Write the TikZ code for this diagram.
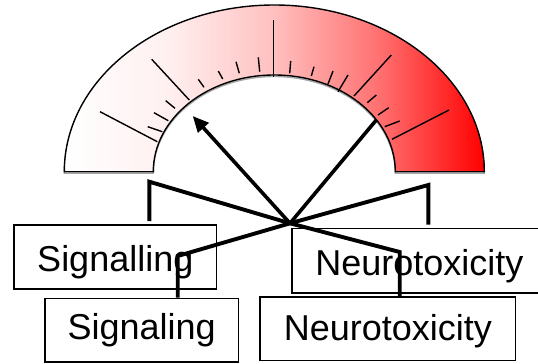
\documentclass[tikz,border=0pt]{standalone}
\usepackage{fontspec}
\setmainfont{Liberation Sans}
\usetikzlibrary{arrows.meta}
\colorlet{gA}{red!6!white}
\colorlet{gB}{red!25!white}
\colorlet{gC}{red!56!white}
\pgfdeclarehorizontalshading{gaugeshade}{100bp}{color(0bp)=(white); color(25bp)=(white); color(37.5bp)=(gA); color(50bp)=(gB); color(62.5bp)=(gC); color(75bp)=(red); color(100bp)=(red)}
\tikzset{
  box/.style={draw=black, line width=1.6pt, fill=white, inner sep=0pt, text depth=0pt,
    font=\fontsize{36}{40}\selectfont},
  tickmark/.style={line width=1.4pt, line cap=butt},
  conn/.style={line width=3.9pt},
  needle/.style={line width=3.6pt},
  gaugeline/.style={line width=1.4pt},
}
\begin{document}
\begin{tikzpicture}[x=1pt,y=-1pt]
\useasboundingbox (0,0) rectangle (538,364);
\clip (0,0) rectangle (538,364);
% gauge shadow
\draw[gaugeline, draw=gray!70, shift={(0,1.5)}] (64.3,171.7) arc[start angle=180,end angle=0,x radius=210pt,y radius=166.7pt] -- (395.3,171.7) arc[start angle=0,end angle=180,x radius=121pt,y radius=96.7pt] -- cycle;
% gauge
\draw[gaugeline, shading=gaugeshade] (64.3,171.7) arc[start angle=180,end angle=0,x radius=210pt,y radius=166.7pt] -- (395.3,171.7) arc[start angle=0,end angle=180,x radius=121pt,y radius=96.7pt] -- cycle;
% ticks
\draw[tickmark] (100,111.7) -- (157.3,141.7);
\draw[tickmark] (151.7,59.3) -- (189.3,100);
\draw[tickmark] (273.3,20) -- (273.3,77);
\draw[tickmark] (391.3,55) -- (354,96);
\draw[tickmark] (449,110) -- (392,139.3);
\draw[tickmark] (147.7,126.7) -- (162.3,131.7);
\draw[tickmark] (154,112.7) -- (168.3,120.7);
\draw[tickmark] (165.7,100.7) -- (175,108.3);
\draw[tickmark] (198.3,79.3) -- (204,87.3);
\draw[tickmark] (218.3,71) -- (222.7,79);
\draw[tickmark] (236,61.7) -- (239.3,73.3);
\draw[tickmark] (258.3,57.3) -- (259.7,71.7);
\draw[tickmark] (290.7,61) -- (289.7,73.3);
\draw[tickmark] (314,66.7) -- (311.3,76);
\draw[tickmark] (333,71) -- (328,84);
\draw[tickmark] (348,75) -- (338,91.7);
\draw[tickmark] (376.3,95) -- (367.3,102.7);
\draw[tickmark] (388.7,107.7) -- (378,115);
\draw[tickmark] (399.7,121) -- (384.7,126.7);
% boxes
\node[box, minimum width=202.7pt, minimum height=64pt, text height=29.4pt] (sigA) at (115.3,257) {Signalling};
\node[box, minimum width=193.3pt, minimum height=63.4pt, text height=18.6pt] (sigB) at (141.7,330) {Signaling};
\node[box, minimum width=254.6pt, minimum height=64.4pt, text height=29pt] (neuA) at (419.3,260.5) {Neurotoxicity};
\node[box, minimum width=255.7pt, minimum height=63.6pt, text height=23pt] (neuB) at (387.8,328.5) {Neurotoxicity};
% connectors
\coordinate (c) at (290,223.3);
\coordinate (tipL) at (192.7,116);
\coordinate (tipR) at (376.3,120);
\coordinate (k1) at (149.3,181.7);
\coordinate (k2) at (428.3,185);
\coordinate (k3) at (177.7,256);
\coordinate (k4) at (399.7,252);
\draw[conn] (c) -- (k1) -- ([yshift=3pt]k1 |- sigA.north);
\draw[conn] (c) -- (k2) -- ([yshift=3pt]k2 |- neuA.north);
\draw[conn] (c) -- (k3) -- (k3 |- sigB.north);
\draw[conn] (c) -- (k4) -- (k4 |- neuB.north);
\draw[needle, -{Triangle[length=16pt,width=14pt]}] (c) -- (tipL);
\draw[needle] (c) -- (tipR);
\end{tikzpicture}
\end{document}
